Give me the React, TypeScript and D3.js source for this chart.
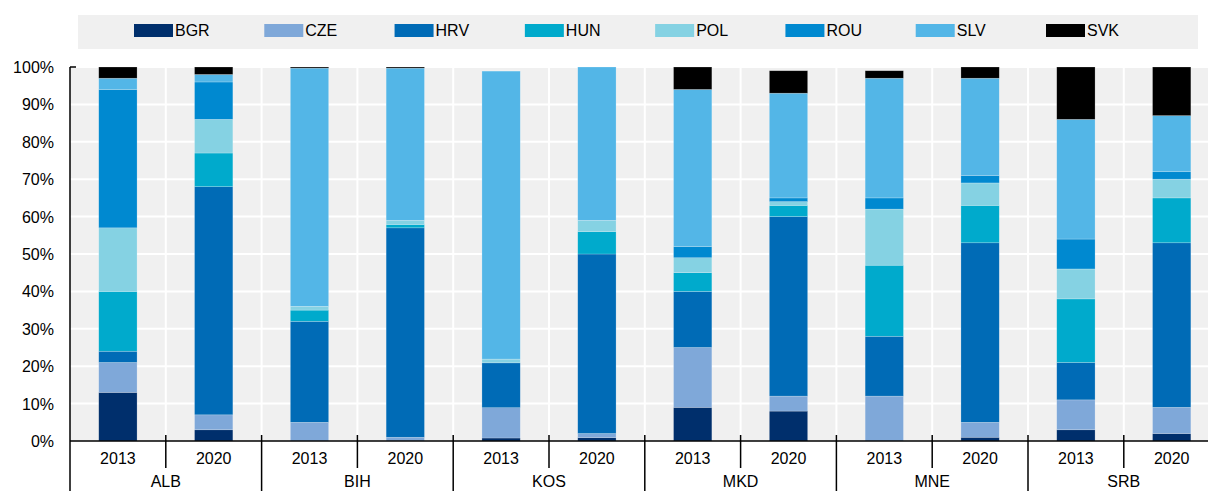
import { select, scaleBand, scaleLinear, stack, range } from "d3";
import React, { useEffect, useRef } from "react";

const countries = ["BGR", "CZE", "HRV", "HUN", "POL", "ROU", "SLV", "SVK"];
const colors = ["#002F6C", "#7FA8D9", "#006BB6", "#00AACC", "#85D2E3", "#0089D0", "#53B6E7", "#000000"];
const groups = ["ALB", "BIH", "KOS", "MKD", "MNE", "SRB"];
const years = ["2013", "2020"];
const yTicks = [0, 10, 20, 30, 40, 50, 60, 70, 80, 90, 100];

// shares per bar: ALB13, ALB20, BIH13, BIH20, KOS13, KOS20, MKD13, MKD20, MNE13, MNE20, SRB13, SRB20
const BGR = [13, 3, 0, 0, 0.8, 0.9, 9, 8, 0, 1, 3, 2];
const CZE = [8, 4, 5, 1, 8.1, 1.1, 16, 4, 12, 4, 8, 7];
const HRV = [3, 61, 27, 56, 12, 48, 15, 48, 16, 48, 10, 44];
const HUN = [16, 9, 3, 0.9, 0, 6, 5, 3, 19, 10, 17, 12];
const POL = [17, 9, 1, 1.1, 1, 3, 4, 1, 15, 6, 8, 5];
const ROU = [37, 10, 0, 0, 0, 0, 3, 1, 3, 2, 8, 2];
const SLV = [3, 2, 63.7, 40.7, 77, 41, 42, 28, 32, 26, 32, 15];
const SVK = [3, 2, 0.3, 0.3, 0, 0, 6, 6, 2, 3, 14, 13];

const seriesValues = [BGR, CZE, HRV, HUN, POL, ROU, SLV, SVK];

const W = 1208;
const H = 491;
const FONT = "'Liberation Sans', Arial, sans-serif";

const App = () => {
  const chartRef = useRef<SVGSVGElement>(null);

  useEffect(() => {
    if (!chartRef.current) return;
    const svg = select(chartRef.current);
    svg.selectAll("*").remove();

    // bar keys and rows for the stack
    const keys = groups.flatMap((g) => years.map((y) => `${g}-${y}`));
    const rows = keys.map((k, i) => {
      const row: any = { key: k };
      countries.forEach((c, j) => (row[c] = seriesValues[j][i]));
      return row;
    });

    const left = 70;
    const right = 1219.6;
    const top = 67;
    const bottom = 441;

    const x = scaleBand<string>()
      .domain(keys)
      .range([left, right])
      .paddingInner(0.6)
      .paddingOuter(0.3);
    const step = x.step();
    const slot = scaleBand<string>().domain(keys).range([left, right]);

    const y = scaleLinear().domain([0, 100]).range([bottom, top]);

    // legend
    const lg = svg.append("g");
    lg.append("rect")
      .attr("x", 78)
      .attr("y", 15)
      .attr("width", 1120)
      .attr("height", 34)
      .attr("fill", "#F0F0F0");
    const legendX = scaleLinear().domain([0, countries.length - 1]).range([134, 1046]);
    countries.forEach((c, i) => {
      lg.append("rect")
        .attr("x", legendX(i))
        .attr("y", 24)
        .attr("width", 39)
        .attr("height", 13)
        .attr("fill", colors[i]);
      lg.append("text")
        .attr("x", legendX(i) + 41)
        .attr("y", 36)
        .attr("font-family", FONT)
        .attr("font-size", 16)
        .attr("fill", "#000")
        .text(c);
    });

    // plot background
    svg.append("rect")
      .attr("x", left)
      .attr("y", top)
      .attr("width", right - left)
      .attr("height", bottom - top)
      .attr("fill", "#F0F0F0");

    // gridlines
    svg.append("g")
      .selectAll("line")
      .data(yTicks.slice(1))
      .enter()
      .append("line")
      .attr("x1", left)
      .attr("x2", right)
      .attr("y1", (d) => y(d))
      .attr("y2", (d) => y(d))
      .attr("stroke", "#fff")
      .attr("stroke-width", 2);
    svg.append("g")
      .selectAll("line")
      .data(range(1, keys.length + 1))
      .enter()
      .append("line")
      .attr("x1", (i) => left + i * step)
      .attr("x2", (i) => left + i * step)
      .attr("y1", top)
      .attr("y2", bottom)
      .attr("stroke", "#fff")
      .attr("stroke-width", 2);

    // stacked bars
    const stacked = stack<any>().keys(countries)(rows);
    svg.append("g")
      .selectAll("g")
      .data(stacked)
      .enter()
      .append("g")
      .attr("fill", (_, i) => colors[i])
      .selectAll("rect")
      .data((d) => d)
      .enter()
      .append("rect")
      .attr("x", (d) => x(d.data.key) || 0)
      .attr("y", (d) => y(d[1]))
      .attr("width", x.bandwidth())
      .attr("height", (d) => Math.max(0, y(d[0]) - y(d[1])))
      .attr("stroke", "#ffffff")
      .attr("stroke-opacity", 0.35)
      .attr("stroke-width", (d) => (d[1] - d[0] > 0 ? 0.6 : 0));

    // y axis
    svg.append("line")
      .attr("x1", left)
      .attr("x2", left)
      .attr("y1", top)
      .attr("y2", H)
      .attr("stroke", "#000")
      .attr("stroke-width", 1.5);
    svg.append("line")
      .attr("x1", left)
      .attr("x2", left + 6)
      .attr("y1", top)
      .attr("y2", top)
      .attr("stroke", "#000")
      .attr("stroke-width", 1.5);
    svg.append("g")
      .selectAll("text")
      .data(yTicks)
      .enter()
      .append("text")
      .attr("x", 54)
      .attr("y", (d) => y(d) + 6)
      .attr("text-anchor", "end")
      .attr("font-family", FONT)
      .attr("font-size", 16)
      .attr("fill", "#000")
      .text((d) => `${d}%`);

    // x axis
    svg.append("line")
      .attr("x1", left)
      .attr("x2", W)
      .attr("y1", bottom)
      .attr("y2", bottom)
      .attr("stroke", "#000")
      .attr("stroke-width", 1.5);
    svg.append("g")
      .selectAll("line")
      .data(range(1, keys.length))
      .enter()
      .append("line")
      .attr("x1", (i) => left + i * step)
      .attr("x2", (i) => left + i * step)
      .attr("y1", bottom - 6)
      .attr("y2", (i) => (i % 2 === 0 ? H : 468))
      .attr("stroke", "#000")
      .attr("stroke-width", 1.5);

    svg.append("g")
      .selectAll("text")
      .data(keys)
      .enter()
      .append("text")
      .attr("x", (k) => (slot(k) || 0) + step / 2)
      .attr("y", 464)
      .attr("text-anchor", "middle")
      .attr("font-family", FONT)
      .attr("font-size", 16)
      .attr("fill", "#000")
      .text((k) => k.split("-")[1]);

    svg.append("g")
      .selectAll("text")
      .data(groups)
      .enter()
      .append("text")
      .attr("x", (_, i) => left + (2 * i + 1) * step)
      .attr("y", 487)
      .attr("text-anchor", "middle")
      .attr("font-family", FONT)
      .attr("font-size", 16)
      .attr("fill", "#000")
      .text((g) => g);
  }, []);

  return (
    <svg
      ref={chartRef}
      width={W}
      height={H}
      style={{ position: "absolute", left: 0, top: 0, background: "#fff" }}
    ></svg>
  );
};

export default App;
